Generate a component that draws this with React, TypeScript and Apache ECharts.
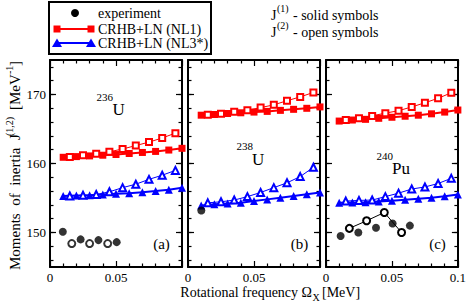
import React, { useEffect, useRef } from "react";
import * as echarts from "echarts";

// rotational frequencies (MeV)
const omegaJ1 = [0.01, 0.02, 0.03, 0.04, 0.05, 0.06, 0.07, 0.08, 0.09, 0.1];
const omegaJ2 = [0.015, 0.025, 0.035, 0.045, 0.055, 0.065, 0.075, 0.085, 0.095];

// 236U
const u236NL1J1 = [160.9, 161.0, 161.1, 161.2, 161.3, 161.45, 161.6, 161.75, 161.95, 162.2];
const u236NL1J2 = [160.95, 161.2, 161.4, 161.7, 162.1, 162.6, 163.1, 163.7, 164.4];
const u236NL3J1 = [155.3, 155.35, 155.4, 155.5, 155.6, 155.7, 155.85, 156.0, 156.2, 156.5];
const u236NL3J2 = [155.3, 155.4, 155.5, 155.9, 156.5, 157.0, 157.7, 158.3, 159.0];
const u236ExpOmegaJ1 = [0.0097, 0.0232, 0.0367, 0.0505];
const u236ExpJ1 = [150.1, 149.0, 148.9, 148.6];
const u236ExpOmegaJ2 = [0.0165, 0.03, 0.0437];
const u236ExpJ2 = [148.4, 148.4, 148.4];

// 238U
const u238NL1J1 = [167.0, 167.1, 167.25, 167.35, 167.45, 167.55, 167.7, 167.85, 168.0, 168.2];
const u238NL1J2 = [167.05, 167.2, 167.5, 167.7, 168.1, 168.5, 169.1, 169.65, 170.3];
const u238NL3J1 = [153.9, 154.1, 154.2, 154.3, 154.55, 154.8, 155.05, 155.3, 155.55, 155.8];
const u238NL3J2 = [154.3, 154.45, 154.7, 155.2, 155.8, 156.5, 157.2, 158.1, 159.45];
const u238ExpOmegaJ1 = [0.0101];
const u238ExpJ1 = [153.2];
const u238ExpOmegaJ2: number[] = [];
const u238ExpJ2: number[] = [];

// 240Pu
const pu240NL1J1 = [166.15, 166.3, 166.4, 166.55, 166.7, 166.85, 167.0, 167.2, 167.45, 167.75];
const pu240NL1J2 = [166.3, 166.55, 166.9, 167.3, 167.65, 168.2, 168.8, 169.45, 170.25];
const pu240NL3J1 = [154.3, 154.35, 154.4, 154.5, 154.6, 154.75, 154.9, 155.05, 155.25, 155.5];
const pu240NL3J2 = [154.55, 154.65, 154.7, 155.2, 155.7, 156.3, 156.6, 157.1, 157.85];
const pu240ExpOmegaJ1 = [0.0111, 0.0245, 0.0379, 0.0505, 0.0636];
const pu240ExpJ1 = [149.5, 150.0, 150.7, 151.3, 151.0];
const pu240ExpOmegaJ2 = [0.0177, 0.0308, 0.0442, 0.0573];
const pu240ExpJ2 = [150.6, 151.7, 152.9, 150.0];

// axis ticks
const yMajorTicks = [150, 160, 170];
const yMinorTicks = [146, 148, 150, 152, 154, 156, 158, 160, 162, 164, 166, 168, 170, 172, 174];

const RED = "#ff0000";
const BLUE = "#0000ff";
const FONT = "Liberation Serif";

const pair = (xs: number[], ys: number[]) => xs.map((x, i) => [x, ys[i]]);

const panels = [
  { nl1J1: u236NL1J1, nl1J2: u236NL1J2, nl3J1: u236NL3J1, nl3J2: u236NL3J2, eOJ1: u236ExpOmegaJ1, eJ1: u236ExpJ1, eOJ2: u236ExpOmegaJ2, eJ2: u236ExpJ2, expLine: false },
  { nl1J1: u238NL1J1, nl1J2: u238NL1J2, nl3J1: u238NL3J1, nl3J2: u238NL3J2, eOJ1: u238ExpOmegaJ1, eJ1: u238ExpJ1, eOJ2: u238ExpOmegaJ2, eJ2: u238ExpJ2, expLine: false },
  { nl1J1: pu240NL1J1, nl1J2: pu240NL1J2, nl3J1: pu240NL3J1, nl3J2: pu240NL3J2, eOJ1: pu240ExpOmegaJ1, eJ1: pu240ExpJ1, eOJ2: pu240ExpOmegaJ2, eJ2: pu240ExpJ2, expLine: true },
];

const gridLefts = [50, 188, 326];

export default function App() {
  const ref = useRef<HTMLDivElement>(null);
  useEffect(() => {
    if (!ref.current) return;
    const chart = echarts.init(ref.current, null, { renderer: "svg" });
    const tickLine = { color: "#000", width: 1.2 };
    const frameLine = { color: "#000", width: 2 };
    const labelStyle = { color: "#000", fontSize: 13, fontFamily: FONT };

    const grids: any[] = [];
    const xAxes: any[] = [];
    const yAxes: any[] = [];
    const series: any[] = [];

    panels.forEach((p, g) => {
      grids.push({ left: gridLefts[g], top: 60, width: 132, height: 207 });
      ["bottom", "top"].forEach((pos) => {
        xAxes.push({
          type: "value",
          gridIndex: g,
          position: pos,
          min: 0,
          max: 0.1,
          interval: 0.05,
          axisLine: { show: true, onZero: false, lineStyle: frameLine },
          axisTick: { show: true, inside: true, length: 6, lineStyle: tickLine },
          minorTick: { show: true, splitNumber: 5, length: 3.5, lineStyle: tickLine },
          axisLabel: {
            show: pos === "bottom",
            showMaxLabel: g === 2,
            showMinLabel: true,
            margin: 4,
            ...labelStyle,
          },
          splitLine: { show: false },
          minorSplitLine: { show: false },
        });
      });
      ["left", "right"].forEach((pos) => {
        [true, false].forEach((major) => {
          yAxes.push({
            type: "value",
            gridIndex: g,
            position: pos,
            min: 145,
            max: 175,
            axisLine: { show: major, onZero: false, lineStyle: frameLine },
            axisTick: {
              show: true,
              inside: true,
              length: major ? 6 : 3.5,
              customValues: major ? yMajorTicks : yMinorTicks,
              lineStyle: tickLine,
            },
            axisLabel: {
              show: major && pos === "left" && g === 0,
              customValues: yMajorTicks,
              margin: 4,
              ...labelStyle,
            },
            splitLine: { show: false },
          });
        });
      });
      const xi = 2 * g;
      const yi = 4 * g;
      series.push(
        {
          type: "line", xAxisIndex: xi, yAxisIndex: yi, data: pair(omegaJ1, p.nl1J1),
          symbol: "rect", symbolSize: 7, itemStyle: { color: RED }, lineStyle: { color: RED, width: 2 }, z: 3,
        },
        {
          type: "line", xAxisIndex: xi, yAxisIndex: yi, data: pair(omegaJ2, p.nl1J2),
          symbol: "emptyRect", symbolSize: 6, itemStyle: { color: RED, borderWidth: 1.5 }, lineStyle: { color: RED, width: 1 }, z: 4,
        },
        {
          type: "line", xAxisIndex: xi, yAxisIndex: yi, data: pair(omegaJ1, p.nl3J1),
          symbol: "triangle", symbolSize: 8, itemStyle: { color: BLUE }, lineStyle: { color: BLUE, width: 2 }, z: 3,
        },
        {
          type: "line", xAxisIndex: xi, yAxisIndex: yi, data: pair(omegaJ2, p.nl3J2),
          symbol: "emptyTriangle", symbolSize: 7, itemStyle: { color: BLUE, borderWidth: 1.5 }, lineStyle: { color: BLUE, width: 1 }, z: 4,
        },
        {
          type: "scatter", xAxisIndex: xi, yAxisIndex: yi, data: pair(p.eOJ1, p.eJ1),
          symbol: "circle", symbolSize: 8, itemStyle: { color: "#000" }, z: 5,
        },
        p.expLine
          ? {
              type: "line", xAxisIndex: xi, yAxisIndex: yi, data: pair(p.eOJ2, p.eJ2),
              symbol: "emptyCircle", symbolSize: 7, itemStyle: { color: "#000", borderWidth: 1.5 }, lineStyle: { color: "#000", width: 1 }, z: 4,
            }
          : {
              type: "scatter", xAxisIndex: xi, yAxisIndex: yi, data: pair(p.eOJ2, p.eJ2),
              symbol: "emptyCircle", symbolSize: 7, itemStyle: { color: "#000", borderWidth: 1.5 }, z: 4,
            }
      );
    });

    const txt = (text: string, x: number, y: number, fontSize: number, align = "left", extra: any = {}) => ({
      type: "text",
      x,
      y,
      style: { text, fontSize, fontFamily: FONT, fill: "#000", align, verticalAlign: "middle", ...extra },
      z: 10,
    });

    const graphic: any[] = [
      // legend
      { type: "rect", shape: { x: 49, y: 2, width: 162, height: 52 }, style: { fill: "#fff", stroke: "#000", lineWidth: 2 }, z: 9 },
      { type: "circle", shape: { cx: 75, cy: 13, r: 4 }, style: { fill: "#000" }, z: 10 },
      txt("experiment", 98, 13, 14),
      { type: "line", shape: { x1: 57, y1: 29, x2: 91, y2: 29 }, style: { stroke: RED, lineWidth: 2 }, z: 10 },
      { type: "rect", shape: { x: 53.5, y: 25.5, width: 7, height: 7 }, style: { fill: RED }, z: 10 },
      { type: "rect", shape: { x: 87.5, y: 25.5, width: 7, height: 7 }, style: { fill: RED }, z: 10 },
      txt("CRHB+LN (NL1)", 98, 29, 14),
      { type: "line", shape: { x1: 57, y1: 43, x2: 91, y2: 43 }, style: { stroke: BLUE, lineWidth: 2 }, z: 10 },
      { type: "polygon", shape: { points: [[57, 38.5], [62, 47], [52, 47]] }, style: { fill: BLUE }, z: 10 },
      { type: "polygon", shape: { points: [[91, 38.5], [96, 47], [86, 47]] }, style: { fill: BLUE }, z: 10 },
      txt("CRHB+LN (NL3*)", 98, 43, 14),
      // J annotations
      txt("J", 271, 15, 14),
      txt("(1)", 277, 8, 10),
      txt("- solid symbols", 293, 15, 14),
      txt("J", 271, 32, 14),
      txt("(2)", 277, 25, 10),
      txt("- open symbols", 293, 32, 14),
      // isotope labels
      txt("236", 96.5, 97, 11),
      txt("U", 112.5, 109, 17),
      txt("238", 236.5, 146, 11),
      txt("U", 252, 159, 17),
      txt("240", 376.5, 155.5, 11),
      txt("Pu", 392, 168, 17),
      // panel tags
      txt("(a)", 161.5, 244, 15, "center"),
      txt("(b)", 299.5, 244, 15, "center"),
      txt("(c)", 437.5, 244, 15, "center"),
      // x axis title
      txt("Rotational frequency Ω", 312, 292, 14, "right"),
      txt("X", 312.5, 297, 10),
      txt("[MeV]", 322, 292, 14),
      // y axis title (rotated)
      {
        type: "group",
        x: 15,
        y: 270,
        rotation: Math.PI / 2,
        children: [
          { type: "text", x: 0, y: 0, style: { text: "Moments  of  inertia  J", fontSize: 15, fontFamily: FONT, fill: "#000", align: "left", verticalAlign: "middle" } },
          { type: "text", x: 134, y: -6, style: { text: "(1,2)", fontSize: 10, fontFamily: FONT, fill: "#000", align: "left", verticalAlign: "middle" } },
          { type: "text", x: 160, y: 0, style: { text: "[MeV", fontSize: 15, fontFamily: FONT, fill: "#000", align: "left", verticalAlign: "middle" } },
          { type: "text", x: 196, y: -6, style: { text: "-1", fontSize: 10, fontFamily: FONT, fill: "#000", align: "left", verticalAlign: "middle" } },
          { type: "text", x: 204, y: 0, style: { text: "]", fontSize: 15, fontFamily: FONT, fill: "#000", align: "left", verticalAlign: "middle" } },
        ],
        z: 10,
      },
    ];

    chart.setOption({
      animation: false,
      backgroundColor: "#fff",
      grid: grids,
      xAxis: xAxes,
      yAxis: yAxes,
      series,
      graphic,
    });
    return () => chart.dispose();
  }, []);
  return <div ref={ref} style={{ width: 469, height: 301, position: "absolute", left: 0, top: 0 }} />;
}
